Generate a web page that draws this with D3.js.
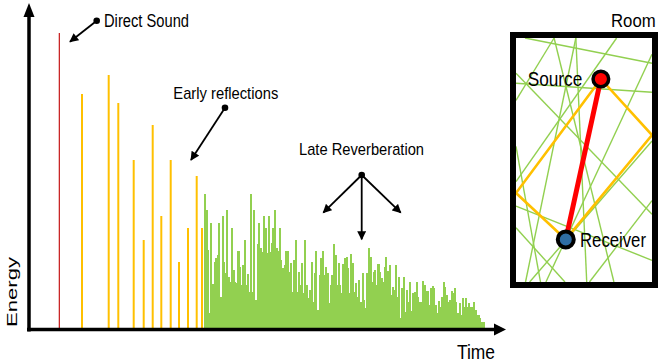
<!DOCTYPE html>
<html>
<head>
<meta charset="utf-8">
<script src="https://cdn.jsdelivr.net/npm/d3@7"></script>
<style>
  body { margin: 0; background: #fff; }
  text { font-family: "Liberation Sans", Arial, sans-serif; fill: #000; }
</style>
</head>
<body>
<div id="chart"></div>
<script>
// direct sound (time, energy)
const directTime = [30.3];
const directEnergy = [296];

// early reflections
const earlyTimes = [53, 79.7, 89.3, 104.7, 114.7, 123.7, 132.3, 141.7, 150, 159, 167.7, 173];
const earlyEnergy = [235, 254, 226, 169, 89, 204, 113, 169, 67, 101, 153, 101];

// late reverberation, evenly spaced from lateStart to lateEnd
const lateStart = 175;
const lateEnd = 455;
const lateEnergy = [
  135, 119, 79, 16, 106, 45, 67, 71, 74, 106, 32, 113, 67, 56, 119, 52, 47, 101, 59, 47,
  46, 78, 62, 44, 64, 89, 44, 55, 37, 135, 37, 119, 29, 85,
  106, 81, 77, 113, 101, 76, 113, 77, 86, 101, 119, 81, 78, 101, 69, 61, 64, 78, 78, 57,
  66, 37, 69, 89, 37, 57, 44, 66, 36, 89, 44, 31, 39, 67, 27, 56, 78, 19, 54, 71, 78, 54, 62,
  56, 26, 44, 54, 85, 74, 44, 66, 44, 36, 65, 71, 72, 61, 36, 75, 66, 37, 46, 32, 49, 27,
  56, 29, 21, 56, 81, 72, 47, 57, 59, 44, 65, 57, 51, 47, 62, 72, 58, 64, 34, 42, 39, 64, 32,
  52, 11, 41, 52, 17, 39, 27, 47, 18, 36, 37, 47, 32, 27, 27, 48, 44, 38, 38, 24, 41, 43,
  41, 24, 16, 28, 22, 32, 47, 42, 34, 27, 29, 38, 36, 41, 27, 16, 26, 14, 31, 22, 31, 22,
  26, 22, 22, 27, 19, 14, 14, 11, 7, 7
];

// room (metres), source / receiver, reflection path and rays
const roomSize = [5, 9];
const source = [3.12, 1.51];
const receiver = [1.83, 7.43];
const reflectionPath = [[1.83, 7.43], [0, 5.72], [3.12, 1.51], [5, 3.58], [1.83, 7.43]];
const rays = [
  [0.33, 0, 5, 0.93],
  [1.4, 0, 0, 2.3],
  [1.4, 0, 3.6, 9],
  [2.2, 0, 0.35, 9],
  [2.2, 0, 2.6, 9],
  [3.7, 0, 0, 5.3],
  [0, 1.67, 5, 2.0],
  [0, 1.3, 5, 6.5],
  [5, 3.8, 0.5, 9],
  [0, 6.2, 5, 8.2],
  [0, 7.0, 1.8, 9],
  [5, 6.0, 2.7, 9],
  [0, 4.0, 0.9, 9],
  [5, 0.6, 1.1, 9]
];

const width = 660;
const height = 362;

const svg = d3.select("#chart")
  .append("svg")
  .attr("width", width)
  .attr("height", height);

const x = d3.scaleLinear().domain([0, 480]).range([29, 509]);
const y = d3.scaleLinear().domain([0, 300]).range([329, 29]);

// markers
const defs = svg.append("defs");
defs.append("marker")
  .attr("id", "head")
  .attr("viewBox", "0 0 10 10")
  .attr("refX", 9)
  .attr("refY", 5)
  .attr("markerUnits", "userSpaceOnUse")
  .attr("markerWidth", 10)
  .attr("markerHeight", 9)
  .attr("orient", "auto")
  .append("path")
  .attr("d", "M0,0L10,5L0,10Z")
  .attr("fill", "#000");

const green = "#92d050";
const orange = "#ffc000";

// late reverberation
const band = d3.scaleBand()
  .domain(d3.range(lateEnergy.length))
  .range([x(lateStart), x(lateEnd)])
  .padding(0);

svg.append("g")
  .attr("shape-rendering", "crispEdges")
  .selectAll("rect")
  .data(lateEnergy)
  .enter()
  .append("rect")
  .attr("x", (d, i) => band(i))
  .attr("width", band.bandwidth() + 0.5)
  .attr("y", (d) => y(d))
  .attr("height", (d) => y(0) - y(d))
  .attr("fill", green);

// early reflections
svg.append("g")
  .selectAll("line")
  .data(earlyTimes)
  .enter()
  .append("line")
  .attr("x1", (d) => x(d))
  .attr("x2", (d) => x(d))
  .attr("y1", y(0))
  .attr("y2", (d, i) => y(earlyEnergy[i]))
  .attr("stroke", orange)
  .attr("stroke-width", 2);

svg.append("g")
  .selectAll("line")
  .data(directTime)
  .enter()
  .append("line")
  .attr("x1", (d) => x(d))
  .attr("x2", (d) => x(d))
  .attr("y1", y(0))
  .attr("y2", (d, i) => y(directEnergy[i]))
  .attr("stroke", "#c00000")
  .attr("stroke-width", 1.1);

// axes as arrows
svg.append("line")
  .attr("x1", x(0)).attr("x2", x(0))
  .attr("y1", y(-2.5)).attr("y2", 16)
  .attr("stroke", "#000").attr("stroke-width", 3.5);
svg.append("path")
  .attr("d", `M${x(0) - 5.5},17L${x(0)},3L${x(0) + 5.5},17Z`)
  .attr("fill", "#000");

svg.append("line")
  .attr("x1", x(-2)).attr("x2", x(466))
  .attr("y1", y(-0.5)).attr("y2", y(-0.5))
  .attr("stroke", "#000").attr("stroke-width", 3.5);
svg.append("path")
  .attr("d", `M${x(465)},${y(-0.5) - 6}L${x(477)},${y(-0.5)}L${x(465)},${y(-0.5) + 6}Z`)
  .attr("fill", "#000");

// annotations
function pointer(from, to) {
  svg.append("line")
    .attr("x1", x(from[0])).attr("y1", y(from[1]))
    .attr("x2", x(to[0])).attr("y2", y(to[1]))
    .attr("stroke", "#000").attr("stroke-width", 1.8)
    .attr("marker-end", "url(#head)");
}
function dot(p) {
  svg.append("circle")
    .attr("cx", x(p[0])).attr("cy", y(p[1]))
    .attr("r", 3.3).attr("fill", "#000");
}

pointer([67.7, 308.3], [41, 287.3]);
dot([67.7, 308.3]);
pointer([196, 221.3], [162, 169]);
dot([196, 221.3]);
pointer([332.7, 154], [294.3, 116.3]);
pointer([332.7, 154], [332.7, 89.7]);
pointer([332.7, 154], [371.7, 116.3]);
dot([332.7, 154]);

function label(txt, px, py, size, len) {
  svg.append("text")
    .attr("x", px).attr("y", py)
    .style("font-size", size + "px")
    .attr("textLength", len)
    .attr("lengthAdjust", "spacingAndGlyphs")
    .text(txt);
}

label("Direct Sound", x(75), y(302.3), 17.5, 85);
label("Early reflections", x(144.3), y(229.7), 17, 105);
label("Late Reverberation", x(270), y(174), 17, 125);
label("Time", x(428), y(-30), 21, 38);

svg.append("text")
  .attr("transform", `translate(17,${y(37)}) rotate(-90)`)
  .attr("text-anchor", "middle")
  .style("font-size", "14.5px")
  .attr("textLength", 70)
  .attr("lengthAdjust", "spacingAndGlyphs")
  .text("Energy");

// room panel
const rx = d3.scaleLinear().domain([0, roomSize[0]]).range([516, 652]);
const ry = d3.scaleLinear().domain([0, roomSize[1]]).range([38, 282]);

svg.append("g")
  .selectAll("line")
  .data(rays)
  .enter()
  .append("line")
  .attr("x1", (d) => rx(d[0]))
  .attr("y1", (d) => ry(d[1]))
  .attr("x2", (d) => rx(d[2]))
  .attr("y2", (d) => ry(d[3]))
  .attr("stroke", green)
  .attr("stroke-width", 1.4);

svg.append("path")
  .datum(reflectionPath)
  .attr("d", d3.line().x((d) => rx(d[0])).y((d) => ry(d[1])))
  .attr("fill", "none")
  .attr("stroke", orange)
  .attr("stroke-width", 2.6);

svg.append("line")
  .attr("x1", rx(source[0])).attr("y1", ry(source[1]))
  .attr("x2", rx(receiver[0])).attr("y2", ry(receiver[1]))
  .attr("stroke", "#ff0000")
  .attr("stroke-width", 5);

svg.append("rect")
  .attr("x", rx(0) - 3).attr("y", ry(0) - 3)
  .attr("width", rx(roomSize[0]) - rx(0) + 6)
  .attr("height", ry(roomSize[1]) - ry(0) + 6)
  .attr("fill", "none")
  .attr("stroke", "#000")
  .attr("stroke-width", 6);

svg.append("circle")
  .attr("cx", rx(source[0])).attr("cy", ry(source[1]))
  .attr("r", 7.8)
  .attr("fill", "#ff0000")
  .attr("stroke", "#000").attr("stroke-width", 3.5);

svg.append("circle")
  .attr("cx", rx(receiver[0])).attr("cy", ry(receiver[1]))
  .attr("r", 8)
  .attr("fill", "#2e6da4")
  .attr("stroke", "#000").attr("stroke-width", 4);

label("Room", 611, 26.7, 18.5, 44.7);
label("Source", 527.7, 85.7, 19.5, 54.6);
label("Receiver", 580, 246.7, 20, 66);
</script>
</body>
</html>
